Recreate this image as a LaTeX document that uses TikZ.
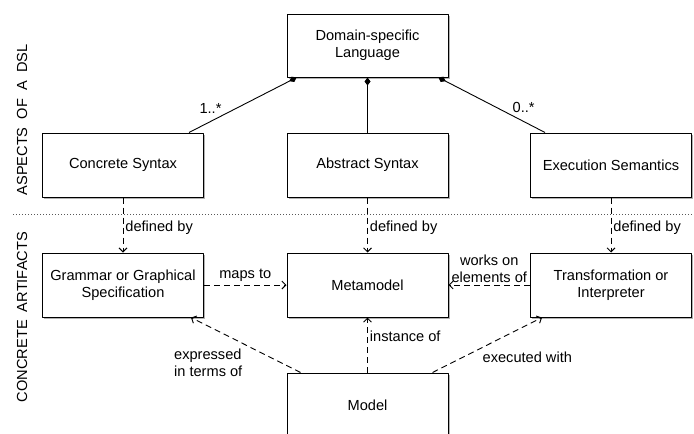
\documentclass[tikz,border=0pt]{standalone}
\usepackage{fontspec}
\setmainfont{Liberation Sans}
\usetikzlibrary{arrows.meta,shadows}

\begin{document}
\begin{tikzpicture}[x=1pt, y=-1pt, line join=round,
    font=\fontsize{14.6}{17}\selectfont,
    box/.style={draw, line width=1pt, fill=white, minimum width=161pt, minimum height=64pt,
        align=center, inner sep=2pt,
        drop shadow={shadow xshift=1.5pt, shadow yshift=-1.5pt, opacity=0.3, fill=black}},
    comp/.style={{Diamond[length=8pt,width=6pt]}-, line width=0.9pt},
    dep/.style={-{Straight Barb[length=4pt,width=8pt]}, line width=0.9pt, dash pattern=on 6pt off 4pt},
    lbl/.style={inner sep=2pt, align=left}]
    \useasboundingbox (0,0) rectangle (694,434);

    % Separator between the two layers
    \coordinate (sepL) at (13,214);
    \coordinate (sepR) at (694,214);
    \draw[line width=1pt, dotted, gray!70!black] (sepL) -- (sepR);

    % Layer titles
    \node[rotate=90] (aspects) at (22,120) {ASPECTS\ \ OF\ \ A\ \ DSL};
    \node[rotate=90] (artifacts) at (22,317) {CONCRETE\ \ ARTIFACTS};

    % Aspects of a DSL
    \node[box, minimum height=63pt] (dsl) at (367.5,45.5) {Domain-specific\\Language};
    \node[box] (concrete) at (123,165) {Concrete Syntax};
    \node[box] (abstract) at (367.5,165) {Abstract Syntax};
    \node[box] (semantics) at (611,165) {Execution Semantics};

    % Concrete artifacts
    \node[box] (grammar) at (123,285) {Grammar or Graphical\\Specification};
    \node[box] (metamodel) at (367.5,285) {Metamodel};
    \node[box] (transform) at (611,285) {Transformation or\\Interpreter};
    \node[box] (model) at (367.5,405) {Model};

    % Composition of the DSL
    \draw[comp] ([xshift=10pt]dsl.south west) -- ([xshift=-15pt]concrete.north east)
        node[pos=0.8, above, lbl, yshift=6pt] (multL) {1..*};
    \draw[comp] (dsl.south) -- (abstract.north);
    \draw[comp] ([xshift=-10pt]dsl.south east) -- ([xshift=15pt]semantics.north west)
        node[pos=0.8, above, lbl, yshift=6pt] (multR) {0..*};

    % Aspects defined by artifacts
    \draw[dep] (concrete) -- (grammar) node[midway, right, lbl, yshift=-3pt] (defL) {defined by};
    \draw[dep] (abstract) -- (metamodel) node[midway, right, lbl, yshift=-3pt] (defM) {defined by};
    \draw[dep] (semantics) -- (transform) node[midway, right, lbl, yshift=-3pt] (defR) {defined by};

    % Relations between artifacts
    \draw[dep] (grammar) -- (metamodel) node[midway, above, lbl, yshift=1pt] (maps) {maps to};
    \draw[dep] (transform) -- (metamodel) node[midway, above, lbl, align=center] (works) {works on\\elements of};
    \draw[dep] ([xshift=14pt]model.north west) -- ([xshift=-13pt]grammar.south east)
        node[midway, below left, lbl, xshift=-1pt, yshift=-1pt] (expr) {expressed\\in terms of};
    \draw[dep] (model) -- (metamodel) node[pos=0.65, right, lbl] (inst) {instance of};
    \draw[dep] ([xshift=-16pt]model.north east) -- ([xshift=12pt]transform.south west)
        node[midway, below right, lbl, xshift=-7pt, yshift=-4pt] (exec) {executed with};
\end{tikzpicture}
\end{document}
